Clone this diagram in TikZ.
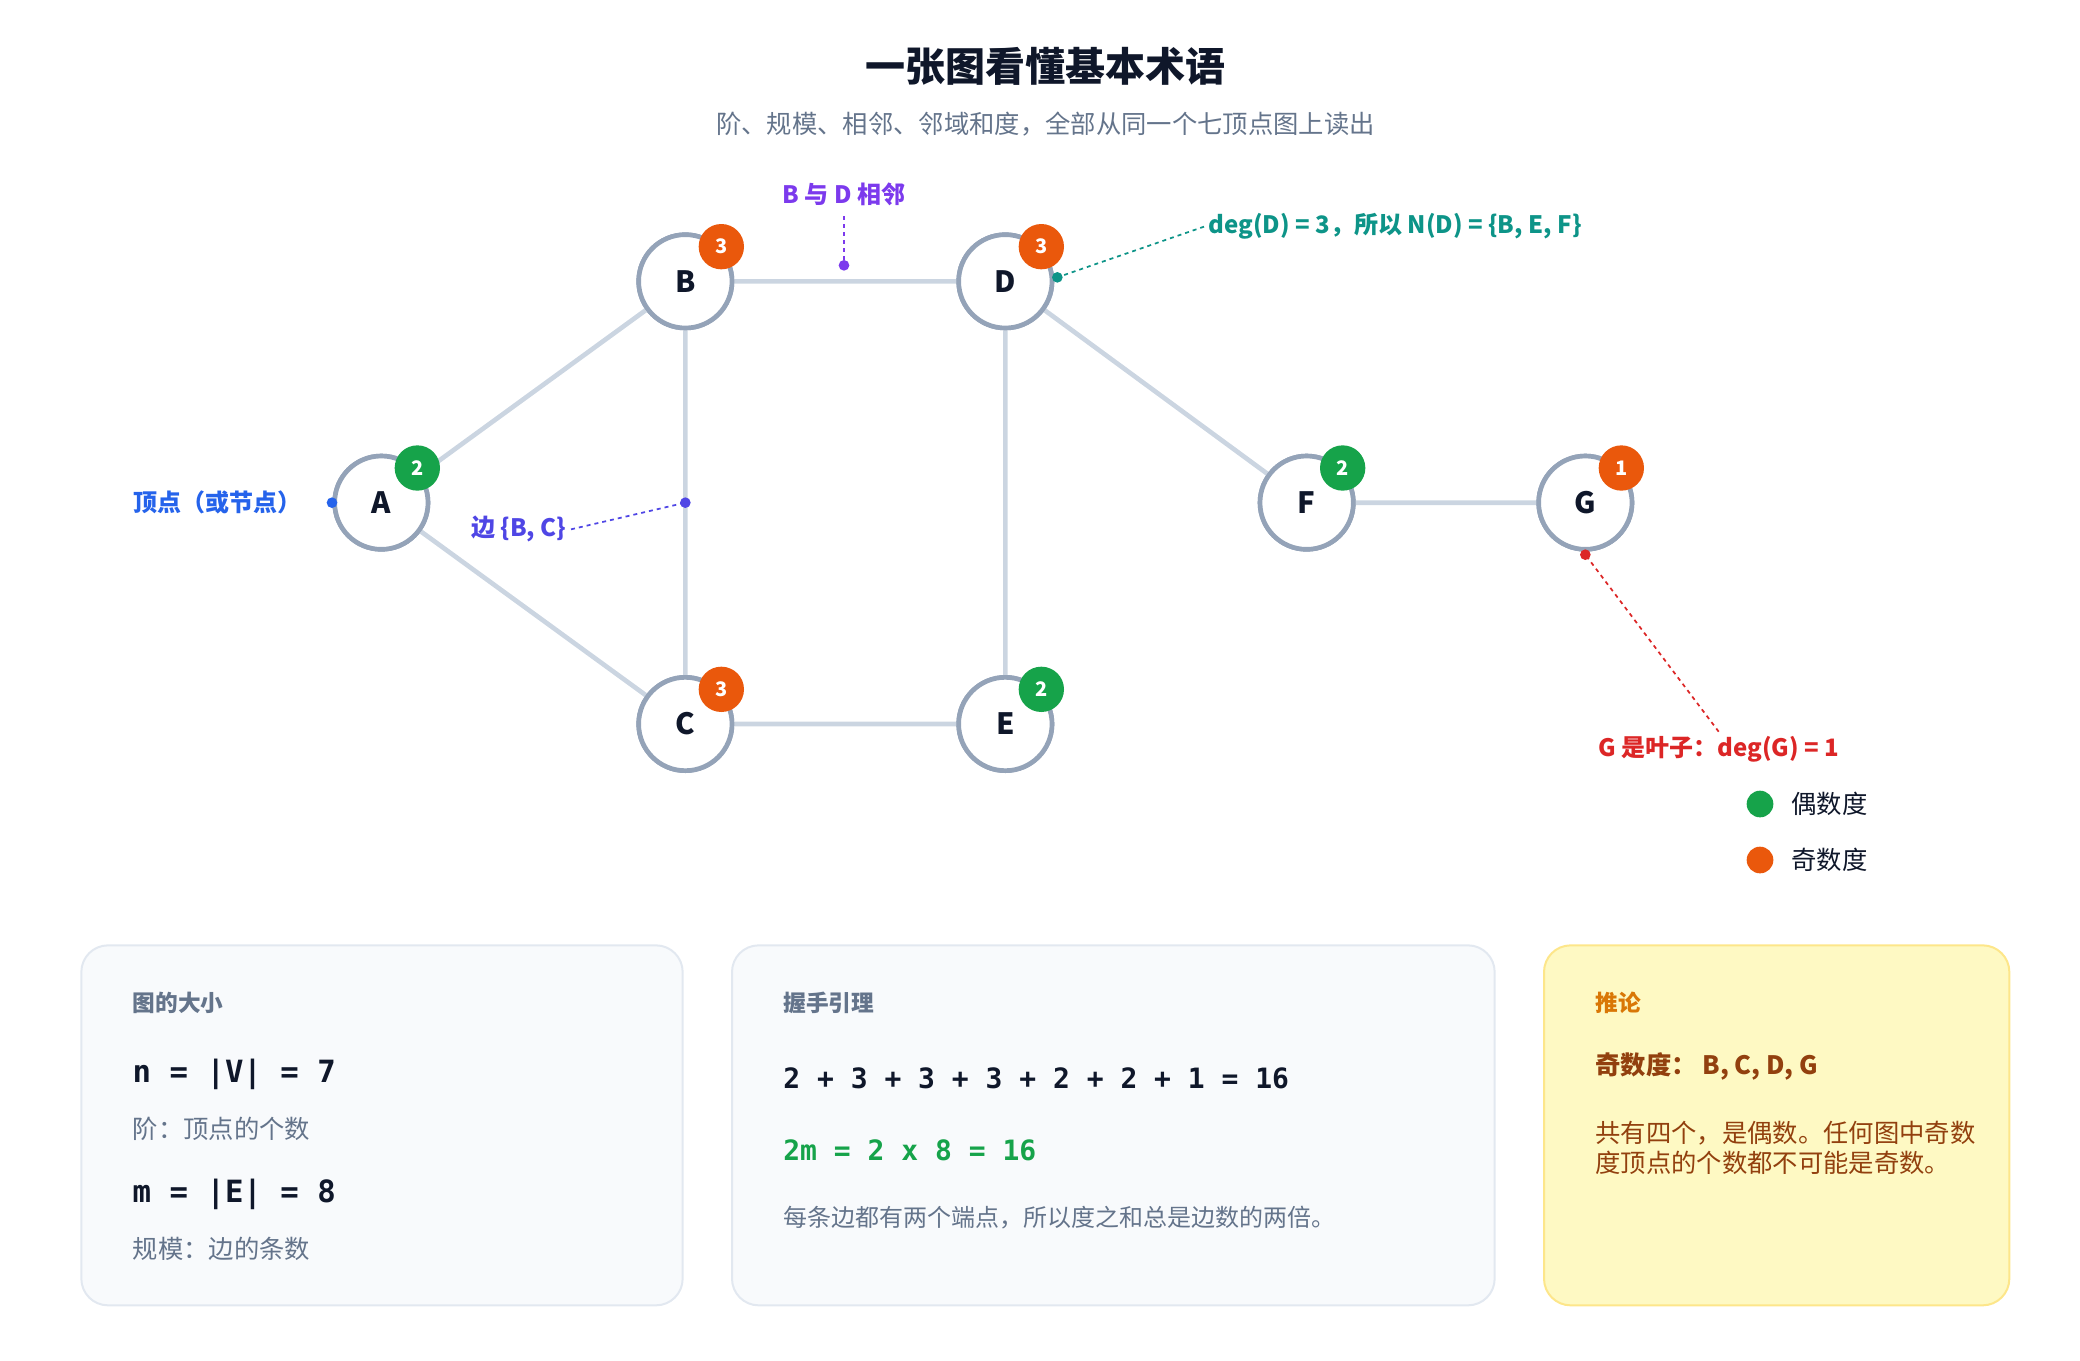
\documentclass[tikz,border=0pt]{standalone}
\usepackage{fontspec}
\setmainfont{Noto Sans CJK SC}
\setmonofont{DejaVu Sans Mono}
\definecolor{edge}{HTML}{CBD5E1}
\definecolor{nstroke}{HTML}{94A3B8}
\definecolor{dark}{HTML}{0F172A}
\definecolor{gray1}{HTML}{64748B}
\definecolor{evenc}{HTML}{16A34A}
\definecolor{oddc}{HTML}{EA580C}
\definecolor{purp}{HTML}{7C3AED}
\definecolor{teal1}{HTML}{0D9488}
\definecolor{blue1}{HTML}{2563EB}
\definecolor{indig}{HTML}{4F46E5}
\definecolor{red1}{HTML}{DC2626}
\definecolor{boxf}{HTML}{F8FAFC}
\definecolor{boxs}{HTML}{E2E8F0}
\definecolor{yelf}{HTML}{FEF9C3}
\definecolor{yels}{HTML}{FDE68A}
\definecolor{brown1}{HTML}{92400E}
\definecolor{amber}{HTML}{D97706}
\newcommand{\fs}[1]{\fontsize{#1}{#1}\selectfont}
\begin{document}
\begin{tikzpicture}[x=1pt,y=-1pt,
 v/.style={circle,draw=nstroke,line width=3.5pt,fill=white,minimum size=70pt,inner sep=0,font=\fs{22}\bfseries,text=dark},
 e/.style={draw=edge,line width=3.5pt},
 bad/.style={circle,minimum size=34pt,inner sep=0,text=white,font=\fs{15}\bfseries},
 ev/.style={bad,fill=evenc}, od/.style={bad,fill=oddc},
 dl/.style={dashed,line width=1.3pt},
 box/.style={rounded corners=20pt,line width=1.5pt},
 lab/.style={font=\fs{18}\bfseries}]
\useasboundingbox (0,0) rectangle (1560,1020);
\node[font=\fs{30}\bfseries,text=dark] (title) at (784,50) {一张图看懂基本术语};
\node[font=\fs{19},text=gray1] (sub) at (784,93) {阶、规模、相邻、邻域和度，全部从同一个七顶点图上读出};
\node[v] (A) at (286,377) {A};
\node[v] (B) at (514,211) {B};
\node[v] (D) at (754,211) {D};
\node[v] (C) at (514,543) {C};
\node[v] (E) at (754,543) {E};
\node[v] (F) at (980,377) {F};
\node[v] (G) at (1189,377) {G};
\begin{scope}[on background layer/.style={}]
\end{scope}
\path[e] (A) -- (B) (A) -- (C) (B) -- (D) (B) -- (C) (C) -- (E) (D) -- (E) (D) -- (F) (F) -- (G);
\foreach \n in {A,B,C,D,E,F,G}{\node[v] at (\n) {\n};}
\node[ev] (bA) at (313,351) {2};
\node[od] (bB) at (541,185) {3};
\node[od] (bD) at (781,185) {3};
\node[od] (bC) at (541,517) {3};
\node[ev] (bE) at (781,517) {2};
\node[ev] (bF) at (1007,351) {2};
\node[od] (bG) at (1216,351) {1};
% annotations
\node[lab,text=purp] (lBD) at (633,146) {B 与 D 相邻};
\coordinate (pBD) at (633,199);
\draw[dl,purp] (633,162) -- (pBD); \fill[purp] (pBD) circle (4pt);
\node[lab,text=teal1,anchor=west] (lD) at (903,170) {deg(D) = 3，所以 N(D) = \{B, E, F\}};
\coordinate (pD) at (793,208);
\draw[dl,teal1] (lD.west) -- (pD); \fill[teal1] (pD) circle (4pt);
\node[lab,text=blue1,anchor=east] (lA) at (230,377) {顶点（或节点）};
\coordinate (pA) at (249,377); \fill[blue1] (pA) circle (4pt);
\node[lab,text=indig] (lBC) at (389,397) {边 \{B, C\}};
\coordinate (pBC) at (514,377);
\draw[dl,indig] (lBC.east) -- (pBC); \fill[indig] (pBC) circle (4pt);
\node[lab,text=red1] (lG) at (1289,562) {G 是叶子：deg(G) = 1};
\coordinate (pG) at (1189,416);
\draw[dl,red1] (lG.north) -- (pG); \fill[red1] (pG) circle (4pt);
% legend
\fill[evenc] (1320,603) circle (10pt);
\node[font=\fs{19},text=dark,anchor=west] (le) at (1340,603) {偶数度};
\fill[oddc] (1320,645) circle (10pt);
\node[font=\fs{19},text=dark,anchor=west] (lo) at (1340,645) {奇数度};
% boxes
\draw[box,fill=boxf,draw=boxs] (61,709) rectangle (512,979);
\draw[box,fill=boxf,draw=boxs] (549,709) rectangle (1121,979);
\draw[box,fill=yelf,draw=yels] (1158,709) rectangle (1507,979);
\begin{scope}[every node/.style={anchor=west}]
\node[font=\fs{17}\bfseries,text=gray1] at (96,752) {图的大小};
\node[font=\fs{23}\ttfamily\bfseries,text=dark] at (96,806) {n = |V| = 7};
\node[font=\fs{19},text=gray1] at (96,847) {阶：顶点的个数};
\node[font=\fs{23}\ttfamily\bfseries,text=dark] at (96,896) {m = |E| = 8};
\node[font=\fs{19},text=gray1] at (96,937) {规模：边的条数};
\node[font=\fs{17}\bfseries,text=gray1] at (584,752) {握手引理};
\node[font=\fs{21}\ttfamily\bfseries,text=dark] at (584,809) {2 + 3 + 3 + 3 + 2 + 2 + 1  =  16};
\node[font=\fs{21}\ttfamily\bfseries,text=evenc] at (584,863) {2m  =  2 x 8  =  16};
\node[font=\fs{18},text=gray1] at (584,913) {每条边都有两个端点，所以度之和总是边数的两倍。};
\node[font=\fs{17}\bfseries,text=amber] at (1193,752) {推论};
\node[font=\fs{19}\bfseries,text=brown1] at (1193,800) {奇数度：  B, C, D, G};
\node[font=\fs{19},text=brown1,align=left] at (1193,861) {共有四个，是偶数。任何图中奇数\\[4pt]度顶点的个数都不可能是奇数。};
\end{scope}
\end{tikzpicture}
\end{document}
